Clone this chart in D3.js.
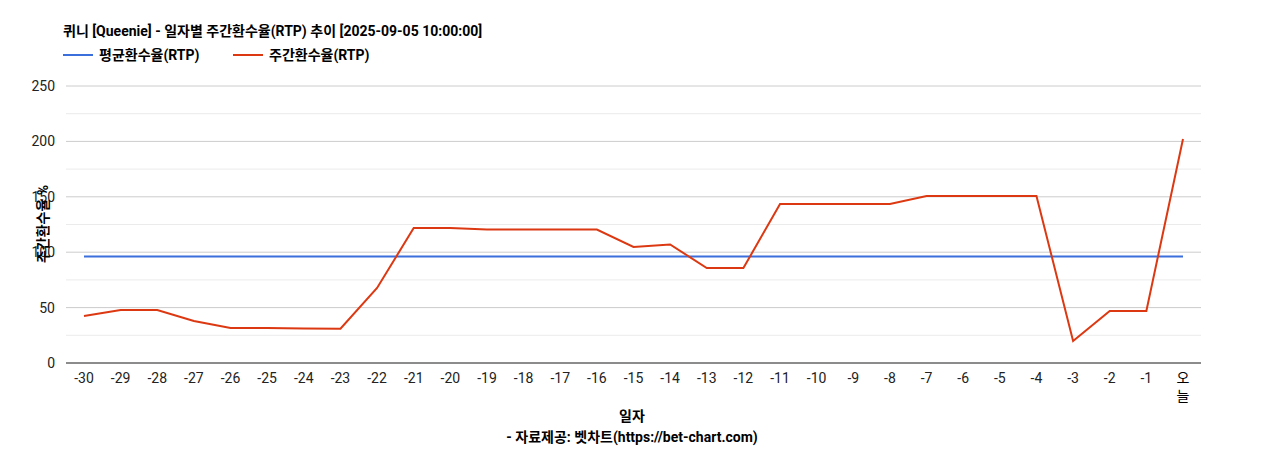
<!DOCTYPE html>
<html><head><meta charset="utf-8">
<script src="https://cdn.jsdelivr.net/npm/d3@7"></script>
<style>body{margin:0;background:#fff}text{font-family:Roboto,"Noto Sans CJK KR",sans-serif}</style>
</head><body><svg id="c" width="1265" height="450"></svg>
<script>
const categories=["-30","-29","-28","-27","-26","-25","-24","-23","-22","-21","-20","-19","-18","-17","-16","-15","-14","-13","-12","-11","-10","-9","-8","-7","-6","-5","-4","-3","-2","-1","오늘"];
const weekly=[42.4,47.8,47.8,37.9,31.6,31.6,31.1,31,67.7,121.8,121.8,120.5,120.5,120.5,120.5,104.7,107,85.7,85.7,143.5,143.5,143.5,143.5,150.7,150.7,150.7,150.7,19.9,47,47,202.2];
const avgVal=96.1;
const avg=categories.map(()=>avgVal);
const yTicks=[0,50,100,150,200,250];
const svg=d3.select("#c");
const L=66,R=1201,T=86,B=363;
const x=d3.scalePoint().domain(categories).range([84,1183]);
const y=d3.scaleLinear().domain([0,250]).range([B,T]);
d3.range(0,251,25).forEach(v=>svg.append("line").attr("x1",L).attr("x2",R).attr("y1",y(v)).attr("y2",y(v)).attr("stroke",v%50?"#ebebeb":"#cccccc"));
svg.append("line").attr("x1",L).attr("x2",R).attr("y1",B).attr("y2",B).attr("stroke","#333");
yTicks.forEach(v=>svg.append("text").attr("x",55).attr("y",y(v)+5).attr("text-anchor","end").attr("font-size",14).attr("fill","#222").text(v));
categories.forEach(c=>{
  if(c==="오늘"){
    svg.append("text").attr("x",x(c)).attr("y",383).attr("text-anchor","middle").attr("font-size",14).text("오");
    svg.append("text").attr("x",x(c)).attr("y",401).attr("text-anchor","middle").attr("font-size",14).text("늘");
  } else svg.append("text").attr("x",x(c)).attr("y",383).attr("text-anchor","middle").attr("font-size",14).attr("fill","#222").text(c);
});
const line=d3.line().x((d,i)=>x(categories[i])).y(d=>y(d));
svg.append("path").attr("d",line(avg)).attr("fill","none").attr("stroke","#3a6fdc").attr("stroke-width",2);
svg.append("path").attr("d",line(weekly)).attr("fill","none").attr("stroke","#dc3912").attr("stroke-width",2);
svg.append("text").attr("x",63).attr("y",36).attr("font-size",14).attr("font-weight","bold").text("퀴니 [Queenie] - 일자별 주간환수율(RTP) 추이 [2025-09-05 10:00:00]");
svg.append("line").attr("x1",63).attr("x2",93).attr("y1",55).attr("y2",55).attr("stroke","#3a6fdc").attr("stroke-width",2);
svg.append("text").attr("x",99).attr("y",60).attr("font-size",14).attr("font-weight","bold").text("평균환수율(RTP)");
svg.append("line").attr("x1",233).attr("x2",263).attr("y1",55).attr("y2",55).attr("stroke","#dc3912").attr("stroke-width",2);
svg.append("text").attr("x",269).attr("y",60).attr("font-size",14).attr("font-weight","bold").text("주간환수율(RTP)");
svg.append("text").attr("transform","translate(48,224) rotate(-90)").attr("text-anchor","middle").attr("font-size",14).attr("font-weight","bold").text("주간환수율 %");
svg.append("text").attr("x",632).attr("y",421).attr("text-anchor","middle").attr("font-size",14).attr("font-weight","bold").text("일자");
svg.append("text").attr("x",632).attr("y",442).attr("text-anchor","middle").attr("font-size",14).attr("font-weight","bold").text("- 자료제공: 벳차트(https://bet-chart.com)");
</script></body></html>
